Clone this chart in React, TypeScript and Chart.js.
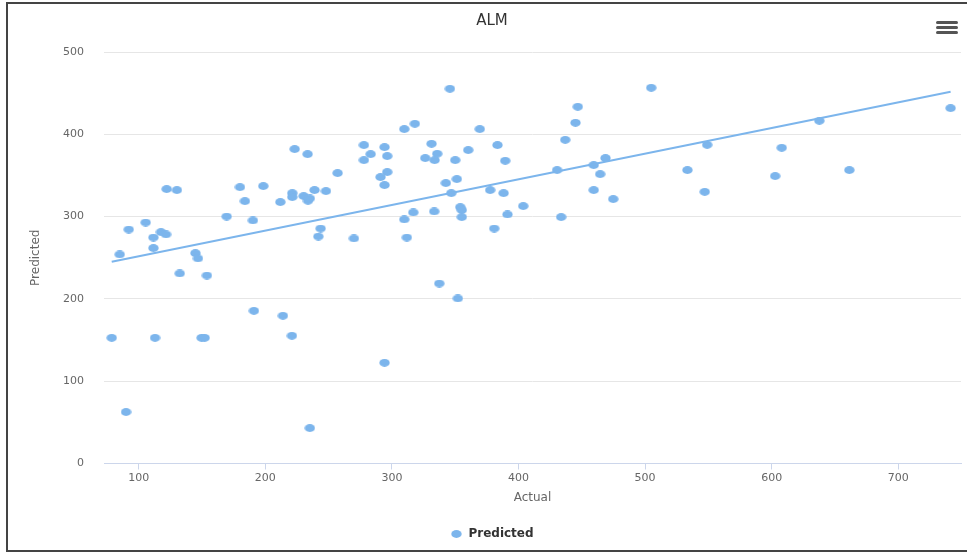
import React, { useEffect, useRef } from "react";
import { Chart, registerables } from "chart.js";

Chart.register(...registerables);

// ---- data ----
const actualValues = [
  78.7, 90.0, 85.0, 92.1, 105.5, 111.6, 111.6, 117.6, 121.6, 122.1,
  130.2, 112.9, 132.4, 144.8, 146.8, 153.9, 149.7, 152.1, 169.5, 180.0,
  183.9, 198.4, 190.2, 191.0, 211.9, 213.9, 221.0, 221.3, 221.3, 223.2,
  233.4, 230.3, 233.7, 235.2, 238.9, 247.9, 243.7, 241.9, 235.2, 257.1,
  270.0, 277.9, 277.9, 283.2, 294.2, 296.3, 296.3, 291.0, 294.2, 294.2,
  309.8, 318.1, 309.8, 316.9, 311.8, 331.3, 335.8, 326.3, 333.7, 333.4,
  337.4, 345.8, 350.0, 342.6, 351.3, 346.9, 354.0, 355.2, 355.2, 352.1,
  360.3, 369.4, 377.6, 380.8, 383.4, 388.2, 389.5, 391.3, 403.7, 430.5,
  433.7, 436.9, 445.0, 446.8, 459.4, 459.4, 464.5, 468.7, 474.8, 504.8,
  533.4, 547.1, 549.0, 602.7, 607.9, 637.6, 661.3, 741.3,
];

const predictedValues = [
  152.7, 62.5, 254.0, 284.3, 292.8, 274.6, 261.7, 281.2, 278.3, 333.4,
  332.2, 152.7, 230.9, 255.6, 249.1, 228.4, 152.7, 152.7, 300.1, 335.8,
  318.8, 337.1, 295.3, 185.5, 317.6, 179.5, 155.2, 328.5, 323.7, 382.0,
  375.9, 324.9, 319.2, 322.0, 332.2, 331.0, 285.5, 275.8, 43.0, 352.9,
  273.4, 386.9, 368.6, 375.9, 384.4, 373.5, 354.1, 348.0, 338.3, 122.4,
  406.3, 412.8, 296.5, 305.0, 274.6, 388.5, 376.3, 371.1, 368.6, 306.2,
  218.7, 455.3, 368.6, 340.7, 345.6, 328.5, 311.5, 307.9, 299.4, 200.5,
  380.8, 406.3, 332.2, 285.5, 386.9, 328.5, 367.8, 302.6, 312.8, 356.5,
  299.4, 393.3, 414.0, 433.4, 362.6, 332.2, 351.6, 371.1, 321.3, 456.5,
  356.5, 330.1, 387.2, 349.2, 383.6, 416.4, 356.5, 431.8,
];

// regression line end points
const fitActual = [78.7, 741.3];
const fitPredicted = [245.1, 451.6];

const xTickValues = [100, 200, 300, 400, 500, 600, 700];
const yTickValues = [0, 100, 200, 300, 400, 500];
const xRange = [72.6, 749.5];
const yRange = [0, 500];

const chartTitle = "ALM";
const seriesName = "Predicted";
const fitName = "Regression";
const xAxisTitle = "Actual";
const yAxisTitle = "Predicted";

const FONT = '"DejaVu Sans", "Liberation Sans", sans-serif';
const DOT_COLOR = "#7cb5ec";

function makeDot(color: string): HTMLCanvasElement {
  const c = document.createElement("canvas");
  c.width = 11;
  c.height = 8;
  const ctx = c.getContext("2d")!;
  ctx.fillStyle = color;
  ctx.beginPath();
  ctx.ellipse(5.5, 4, 5.2, 3.9, 0, 0, Math.PI * 2);
  ctx.fill();
  return c;
}

export default function App() {
  const canvasRef = useRef<HTMLCanvasElement | null>(null);

  useEffect(() => {
    if (!canvasRef.current) return;
    Chart.defaults.font.family = FONT;
    const dot = makeDot(DOT_COLOR);

    const chart = new Chart(canvasRef.current, {
      type: "scatter",
      data: {
        datasets: [
          {
            label: fitName,
            type: "line",
            data: fitActual.map((x, i) => ({ x, y: fitPredicted[i] })),
            borderColor: DOT_COLOR,
            backgroundColor: DOT_COLOR,
            borderWidth: 2,
            pointRadius: 0,
            showLine: true,
            fill: false,
            order: 0,
            clip: false,
          } as any,
          {
            label: seriesName,
            data: actualValues.map((x, i) => ({ x, y: predictedValues[i] })),
            pointStyle: dot,
            pointRadius: 5,
            backgroundColor: DOT_COLOR,
            borderColor: DOT_COLOR,
            order: 1,
            clip: false,
          } as any,
        ],
      },
      options: {
        responsive: false,
        animation: false,
        devicePixelRatio: 1,
        layout: { padding: { left: 22, right: 5, top: 0, bottom: 2 } },
        plugins: {
          title: {
            display: true,
            text: chartTitle,
            color: "#333333",
            font: { size: 15, weight: "normal", family: FONT },
            padding: { top: 12, bottom: 22 },
          },
          legend: {
            position: "bottom",
            labels: {
              usePointStyle: true,
              color: "#333333",
              font: { size: 12, weight: "bold", family: FONT },
              padding: 10,
              filter: (item: any) => item.text === seriesName,
            },
          },
          tooltip: { enabled: false },
        },
        scales: {
          x: {
            type: "linear",
            position: "bottom",
            min: xRange[0],
            max: xRange[1],
            afterBuildTicks: (s: any) => {
              s.ticks = xTickValues.map((v) => ({ value: v }));
            },
            afterFit: (s: any) => {
              s.height = 54.5;
            },
            grid: {
              drawOnChartArea: false,
              drawTicks: true,
              tickLength: 6,
              color: "#ccd6eb",
              lineWidth: 1,
            },
            border: { display: true, color: "#ccd6eb", width: 1 },
            ticks: {
              padding: 2,
              color: "#666666",
              font: { size: 11, family: FONT },
              maxRotation: 0,
            },
            title: {
              display: true,
              text: xAxisTitle,
              color: "#666666",
              font: { size: 12, family: FONT },
              padding: { top: 0, bottom: 13 },
            },
          },
          y: {
            type: "linear",
            min: yRange[0],
            max: yRange[1],
            afterBuildTicks: (s: any) => {
              s.ticks = yTickValues.map((v) => ({ value: v }));
            },
            afterFit: (s: any) => {
              s.width = 82;
            },
            grid: {
              color: "#e6e6e6",
              lineWidth: 1,
              drawTicks: false,
            },
            border: { display: false },
            ticks: {
              padding: 20,
              color: "#666666",
              font: { size: 11, family: FONT },
            },
            title: {
              display: true,
              text: yAxisTitle,
              color: "#666666",
              font: { size: 12, family: FONT },
              padding: { top: 7, bottom: 0 },
            },
          },
        },
      } as any,
    });

    return () => chart.destroy();
  }, []);

  const bar = (top: number): React.CSSProperties => ({
    position: "absolute",
    left: 936,
    top,
    width: 22,
    height: 3,
    background: "#555555",
    borderRadius: 1.5,
  });

  return (
    <div
      style={{
        position: "fixed",
        left: 0,
        top: 0,
        width: 967,
        height: 552,
        overflow: "hidden",
        background: "#ffffff",
      }}
    >
      <div
        style={{
          position: "absolute",
          left: 6,
          top: 2,
          width: 990,
          height: 550,
          border: "2px solid #444444",
          boxSizing: "border-box",
        }}
      />
      <canvas
        ref={canvasRef}
        width={967}
        height={552}
        style={{ position: "absolute", left: 0, top: 0, width: 967, height: 552 }}
      />
      <div style={bar(21)} />
      <div style={bar(26)} />
      <div style={bar(31)} />
    </div>
  );
}
